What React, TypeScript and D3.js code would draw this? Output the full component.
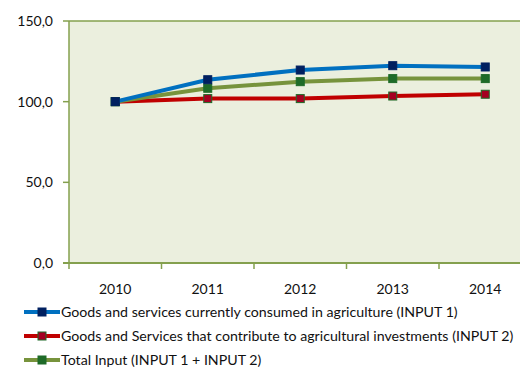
import React from "react";
import * as d3 from "d3";

const years = ["2010", "2011", "2012", "2013", "2014"];
const input1 = [100, 113.6, 119.6, 122.3, 121.5];
const input2 = [100, 101.9, 101.9, 103.5, 104.6];
const total = [100, 108.3, 112.4, 114.3, 114.3];
const yTicks = [0, 50, 100, 150];
const seriesNames = [
  "Goods and services currently consumed in agriculture (INPUT 1)",
  "Goods and Services that contribute to agricultural investments (INPUT 2)",
  "Total Input (INPUT 1 + INPUT 2)",
];

const W = 520, H = 368;
const left = 69, right = 531.5, top = 21, bottom = 263;
const axisColor = "#84A04E";
const font = "Lato, 'Open Sans', sans-serif";

export default function App() {
  const x = d3.scaleBand<string>().domain(years).range([left, right]);
  const y = d3.scaleLinear().domain([0, 150]).range([bottom, top]);
  const line = d3
    .line<number>()
    .x((_, i) => (x(years[i]) as number) + x.bandwidth() / 2)
    .y((d) => y(d));

  const series = [
    { name: seriesNames[0], data: input1, stroke: "#0070C0", fill: "#002060", mstroke: "#002060" },
    { name: seriesNames[1], data: input2, stroke: "#C00000", fill: "#A50021", mstroke: "#1E6B28" },
    { name: seriesNames[2], data: total, stroke: "#77933C", fill: "#1E6B28", mstroke: "#1E6B28" },
  ];
  const drawOrder = [1, 2, 0];
  const ms = 8;

  return (
    <svg width={W} height={H} style={{ position: "absolute", left: 0, top: 0, fontFamily: font }}>
      <rect x={0} y={0} width={W} height={H} fill="#fff" />
      <rect x={left} y={top} width={right - left} height={bottom - top} fill="#EBEFDE" />
      <line x1={left} x2={W} y1={top} y2={top} stroke={axisColor} strokeWidth={1.5} />
      <line x1={left} x2={left} y1={top} y2={bottom} stroke={axisColor} strokeWidth={1.5} />
      <line x1={left - 6} x2={W} y1={bottom} y2={bottom} stroke={axisColor} strokeWidth={2} />
      {yTicks.map((t) => (
        <g key={t}>
          <line x1={left - 6} x2={left} y1={y(t)} y2={y(t)} stroke={axisColor} strokeWidth={1.5} />
          <text x={53} y={y(t)} dy="0.35em" textAnchor="end" fontSize={14} fill="#111">
            {t.toFixed(1).replace(".", ",")}
          </text>
        </g>
      ))}
      {years.map((yr) => (
        <g key={yr}>
          <line
            x1={x(yr) as number}
            x2={x(yr) as number}
            y1={bottom}
            y2={bottom + 6}
            stroke={axisColor}
            strokeWidth={1.5}
          />
          <text
            x={(x(yr) as number) + x.bandwidth() / 2}
            y={289}
            dy="0.35em"
            textAnchor="middle"
            fontSize={14}
            fill="#111"
          >
            {yr}
          </text>
        </g>
      ))}
      {drawOrder.map((si) => {
        const s = series[si];
        return (
          <g key={s.name}>
            <path d={line(s.data) || ""} fill="none" stroke={s.stroke} strokeWidth={4} />
            {s.data.map((v, i) => (
              <rect
                key={i}
                x={(x(years[i]) as number) + x.bandwidth() / 2 - ms / 2}
                y={y(v) - ms / 2}
                width={ms}
                height={ms}
                fill={s.fill}
                stroke={s.mstroke}
                strokeWidth={1}
              />
            ))}
          </g>
        );
      })}
      {series.map((s, i) => {
        const cy = 312 + i * 24;
        return (
          <g key={s.name}>
            <line x1={24} x2={60} y1={cy} y2={cy} stroke={s.stroke} strokeWidth={4} />
            <rect x={42 - ms / 2} y={cy - ms / 2} width={ms} height={ms} fill={s.fill} stroke={s.mstroke} strokeWidth={1} />
            <text x={61} y={cy} dy="0.35em" fontSize={14.2} fill="#111">
              {s.name}
            </text>
          </g>
        );
      })}
    </svg>
  );
}
